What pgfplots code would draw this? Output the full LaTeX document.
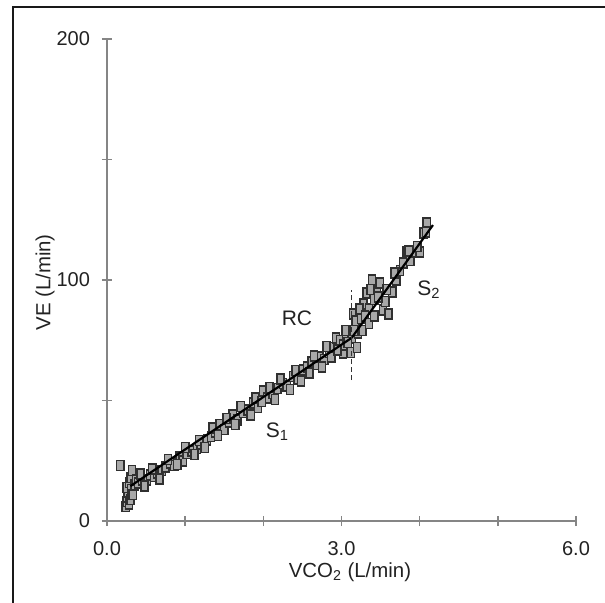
\documentclass[border=0pt]{standalone}
\usepackage{pgfplots}
\pgfplotsset{compat=1.18}
\usepackage{fontspec}
\setmainfont{Liberation Sans}
\definecolor{axgray}{HTML}{858585}
\definecolor{mfill}{HTML}{A8A8A8}
\definecolor{medge}{HTML}{303030}
\definecolor{txt}{HTML}{222222}
\begin{document}
\begin{tikzpicture}
\useasboundingbox (-53.5pt,-40.5pt) rectangle (249pt,260.5pt);
\draw[line width=1.1pt, black!90] (-47pt,-41pt) -- (-47pt,257pt) -- (250pt,257pt);
\begin{axis}[
  at={(0pt,0pt)}, anchor=south west,
  scale only axis, width=234.5pt, height=241pt,
  xmin=0, xmax=6, ymin=0, ymax=200,
  axis x line=bottom, axis y line=left,
  axis line style={-, axgray, line width=0.8pt},
  xtick={0,1,2,3,4,5,6}, xticklabels={0.0,,,3.0,,,6.0},
  ytick={0,50,100,150,200}, yticklabels={0,,100,,200},
  tick align=center, major tick length=5pt,
  tick style={axgray, line width=0.8pt},
  /pgf/number format/assume math mode=true,
  ticklabel style={font=\fontsize{10}{12}\selectfont, text=txt},
  xticklabel style={yshift=-4pt},
  yticklabel style={xshift=-2.5pt},
  xlabel={VCO\textsubscript{2} (L/min)},
  ylabel={VE (L/min)},
  label style={font=\fontsize{10.2}{12}\selectfont, text=txt},
  x label style={at={(axis description cs:0.518,-0.106)}, anchor=center},
  y label style={at={(axis description cs:-0.132,0.495)}, anchor=center, rotate=0},
  clip=false, clip marker paths=true,
]
\addplot[only marks, mark=square*, mark size=2.5pt,
  mark options={xscale=0.72, fill=mfill, draw=medge, line width=0.75pt}]
coordinates {
(0.17,23) (0.24,6) (0.25,8) (0.26,10) (0.27,12) (0.25,14) (0.28,16) (0.30,18)
(0.32,21) (0.28,7) (0.30,9) (0.31,13) (0.33,11) (0.35,15) (0.37,17)
(0.40,15.8) (0.45,17) (0.51,17) (0.55,19) (0.60,18.5) (0.64,20) (0.70,21)
(0.75,22.5) (0.81,24) (0.86,23) (0.93,26.6) (0.97,25) (1.02,28) (1.08,29)
(1.15,30) (1.20,32) (1.28,33.6) (1.33,35) (1.38,37) (1.44,40) (1.50,38)
(1.56,41) (1.61,44) (1.67,42) (1.74,45) (1.80,46) (1.87,49) (1.93,47)
(2.00,54) (2.05,51) (2.12,53) (2.18,55) (2.25,57) (2.30,56) (2.38,60)
(2.44,59) (2.51,62.7) (2.56,64) (2.62,66) (2.68,65) (2.72,68) (2.78,67)
(2.84,70) (2.89,72) (2.93,76) (2.98,75) (3.02,69.7) (3.02,73) (3.06,76)
(3.10,79) (3.13,76) (3.15,86) (3.18,83) (3.21,78) (3.27,79) (3.25,84)
(3.28,90) (3.32,94.6) (3.35,88) (3.39,100) (3.42,92) (3.45,96) (3.49,98.8)
(3.53,87.5) (3.56,91) (3.60,86) (3.65,95) (3.70,100) (3.75,104) (3.79,107)
(3.83,111.6) (3.88,108) (3.92,111.6) (4.00,111.6) (4.05,119.5) (4.09,123.7)
(0.43,19.5) (0.48,14.5) (0.58,21.5) (0.67,17.5) (0.78,25.5) (0.90,23.5)
(1.00,30.5) (1.12,27.5) (1.18,33.5) (1.25,30.5) (1.35,38.5) (1.42,35.5)
(1.53,42.5) (1.64,40) (1.71,47.5) (1.84,44) (1.90,51) (1.98,49.5)
(2.08,55.5) (2.15,50.5) (2.22,59) (2.34,54.5) (2.41,62.5) (2.48,58)
(2.59,61.5) (2.65,68.5) (2.75,64) (2.81,72.5) (2.87,68) (2.95,71)
(3.05,79) (3.08,74) (3.16,79) (3.23,88) (3.30,85) (3.37,96) (3.47,93)
(3.58,96) (3.68,103) (3.86,112) (3.97,114) (4.08,120)
(3.12,70) (3.20,72) (3.35,82) (3.42,85)
};
\addplot[black, line width=1.1pt] coordinates {(0.30,14.5) (3.13,76)};
\addplot[black, line width=1.1pt] coordinates {(3.13,76) (4.17,122.8)};
\addplot[black!80, line width=0.8pt, dash pattern=on 2.5pt off 1.5pt] coordinates {(3.13,58.5) (3.13,96)};
\node[font=\fontsize{10.5}{12}\selectfont, text=txt] at (axis cs:2.43,84) {RC};
\node[font=\fontsize{10.5}{12}\selectfont, text=txt] at (axis cs:2.18,37) {S\textsubscript{1}};
\node[font=\fontsize{10.5}{12}\selectfont, text=txt] at (axis cs:4.12,96) {S\textsubscript{2}};
\end{axis}
\end{tikzpicture}
\end{document}
